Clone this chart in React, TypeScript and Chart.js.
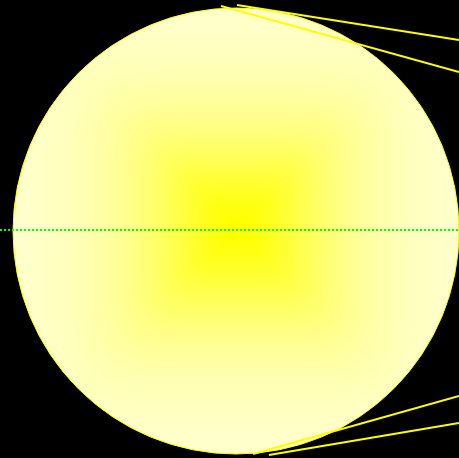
import React, { useEffect, useRef } from "react";
import { Chart, registerables } from "chart.js";

Chart.register(...registerables);

// Sun disc (bubble): centre and radius
const sunX = [236];
const sunY = [231];
const sunR = [223];

// Rays: start and end points
const rayAx = [221, 459];
const rayAy = [6, 72];
const rayBx = [237, 459];
const rayBy = [5, 40];
const rayCx = [253, 459];
const rayCy = [454, 396];
const rayDx = [269, 459];
const rayDy = [455, 423];

// Horizon (dotted)
const horizonX = [0, 459];
const horizonY = [230, 230];

const X_MIN = 0;
const X_MAX = 459;
const Y_MIN = 0;
const Y_MAX = 458;

function pts(xs: number[], ys: number[]) {
  return xs.map((x, i) => ({ x, y: ys[i] }));
}

let patternCache: { key: string; pat: CanvasPattern | null } | null = null;

function sunFill(ctx: any) {
  const chart = ctx.chart;
  const sx = chart.scales.x;
  const sy = chart.scales.y;
  if (!sx || !sy) return "#ffffd8";
  const cx = sx.getPixelForValue(sunX[0]) + 1;
  const cy = sy.getPixelForValue(sunY[0]) - 3;
  const w = chart.width;
  const h = chart.height;
  const key = `${cx}-${cy}-${w}-${h}`;
  if (patternCache && patternCache.key === key) return patternCache.pat;
  const off = document.createElement("canvas");
  off.width = w;
  off.height = h;
  const octx = off.getContext("2d")!;
  const img = octx.createImageData(w, h);
  const p = 6;
  for (let j = 0; j < h; j++) {
    for (let i = 0; i < w; i++) {
      const dx = Math.abs(i - cx);
      const dy = Math.abs(j - cy);
      const s = Math.pow(Math.pow(dx, p) + Math.pow(dy, p), 1 / p);
      const Y = Math.exp(-Math.pow(s / 105, 1.6));
      const b = 212 * (1 - Y);
      const k = (j * w + i) * 4;
      img.data[k] = 255;
      img.data[k + 1] = 255;
      img.data[k + 2] = b;
      img.data[k + 3] = 255;
    }
  }
  octx.putImageData(img, 0, 0);
  const pat = chart.ctx.createPattern(off, "no-repeat");
  patternCache = { key, pat };
  return pat;
}

export default function App() {
  const ref = useRef<HTMLCanvasElement>(null);
  useEffect(() => {
    document.body.style.margin = "0";
    document.body.style.background = "#000";
    if (!ref.current) return;
    const ray = (xs: number[], ys: number[]) => ({
      type: "line" as const,
      data: pts(xs, ys),
      borderColor: "#ffff00",
      borderWidth: 2,
      pointRadius: 0,
      fill: false,
      tension: 0,
      order: 2,
      clip: 0,
    });
    const chart = new Chart(ref.current, {
      type: "bubble",
      data: {
        datasets: [
          {
            type: "line",
            data: pts(horizonX, horizonY),
            borderColor: "#00ff00",
            borderWidth: 2,
            borderDash: [2, 2],
            pointRadius: 0,
            fill: false,
            order: 1,
            clip: 0,
          } as any,
          ray(rayAx, rayAy),
          ray(rayBx, rayBy),
          ray(rayCx, rayCy),
          ray(rayDx, rayDy),
          {
            type: "bubble",
            data: sunX.map((x, i) => ({ x, y: sunY[i], r: sunR[i] })),
            backgroundColor: sunFill,
            borderColor: "#ffff00",
            borderWidth: 1,
            order: 10,
            clip: 0,
          } as any,
        ],
      },
      options: {
        animation: false,
        responsive: true,
        maintainAspectRatio: false,
        layout: { padding: 0, autoPadding: false },
        plugins: { legend: { display: false }, tooltip: { enabled: false } },
        events: [],
        scales: {
          x: { type: "linear", min: X_MIN, max: X_MAX, display: false },
          y: { type: "linear", min: Y_MIN, max: Y_MAX, reverse: true, display: false },
        },
      },
    } as any);
    return () => chart.destroy();
  }, []);
  return (
    <div style={{ width: 459, height: 458, background: "#000" }}>
      <canvas ref={ref} />
    </div>
  );
}
